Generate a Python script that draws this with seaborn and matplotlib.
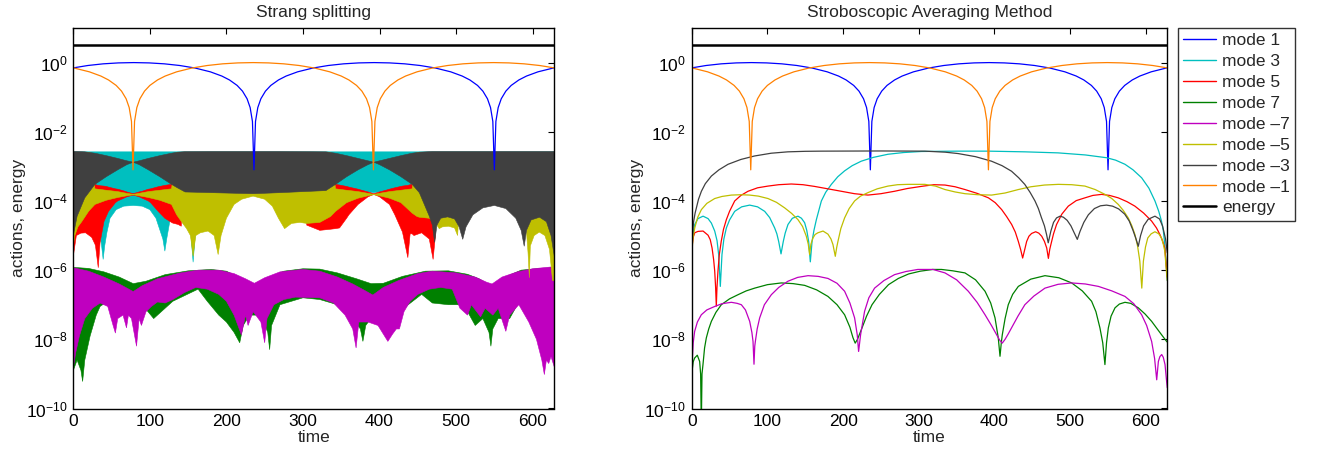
import numpy as np
import matplotlib
matplotlib.use("Agg")
import matplotlib.pyplot as plt
from matplotlib.lines import Line2D
import seaborn as sns

# ---------------- data (log10 of the actions) ----------------
T_END = 628.3
energy_t = [0, T_END]
energy_a = [0.51, 0.51]

# mode 1 / mode -1 (same in both panels)
t_p1 = [0, 19, 39, 59, 79, 99, 119, 139, 159, 179, 194, 204, 214, 221, 227, 231, 234, 236, 238, 241,
        245, 251, 258, 268, 278, 293, 313, 333, 353, 373, 393, 413, 433, 453, 473, 493, 508, 518, 528, 535,
        541, 545, 548, 550, 552, 555, 559, 565, 572, 582, 592, 607, 627, 628.3]
a_p1 = [-0.153, -0.084, -0.036, -0.009, 0, -0.009, -0.036, -0.084, -0.157, -0.267, -0.389, -0.502, -0.66,
        -0.825, -1.046, -1.30, -1.70, -3.1, -1.70, -1.30, -1.046, -0.825, -0.66, -0.502, -0.389, -0.267,
        -0.157, -0.084, -0.036, -0.009, 0, -0.009, -0.036, -0.084, -0.157, -0.267, -0.389, -0.502, -0.66,
        -0.825, -1.046, -1.30, -1.70, -3.1, -1.70, -1.30, -1.046, -0.825, -0.66, -0.502, -0.389, -0.267,
        -0.157, -0.153]
t_m1 = [0, 1, 21, 36, 46, 56, 63, 69, 73, 76, 78, 80, 83, 87, 93, 100, 110, 120, 135, 155, 175, 195, 215,
        235, 255, 275, 295, 315, 335, 350, 360, 370, 377, 383, 387, 390, 392, 394, 397, 401, 407, 414, 424,
        434, 449, 469, 489, 509, 529, 549, 569, 589, 609, 628.3]
a_m1 = [-0.153, -0.157, -0.267, -0.389, -0.502, -0.66, -0.825, -1.046, -1.30, -1.70, -3.1, -1.70, -1.30,
        -1.046, -0.825, -0.66, -0.502, -0.389, -0.267, -0.157, -0.084, -0.036, -0.009, 0, -0.009, -0.036,
        -0.084, -0.157, -0.267, -0.389, -0.502, -0.66, -0.825, -1.046, -1.30, -1.70, -3.1, -1.70, -1.30,
        -1.046, -0.825, -0.66, -0.502, -0.389, -0.267, -0.157, -0.084, -0.036, -0.009, 0, -0.009, -0.036,
        -0.084, -0.153]

# stroboscopic averaging: smooth curves
t_avg_p3 = [0, 2, 4, 8.3, 15, 21.6, 26, 30.4, 33.5, 35.6, 37.8, 40, 42.5, 45.8, 50, 56.8, 66, 76.6, 87, 96.4,
            103, 109.6, 112.5, 114.9, 118, 121, 123.5, 127.2, 133, 140.4, 145, 149.2, 152, 154.5, 156.7, 159,
            161.5, 164.7, 171.3, 177, 184.5, 193, 202, 212, 224, 240, 259.3, 280, 303.3, 350, 392, 440, 484,
            520, 548, 560, 572.4, 583, 594.4, 604, 612, 617, 620.6, 623, 625, 627.4, 628.3]
a_avg_p3 = [-5.3, -4.9, -4.68, -4.51, -4.44, -4.51, -4.64, -4.87, -5.15, -5.55, -6.47, -5.55, -5.1, -4.78,
            -4.55, -4.30, -4.17, -4.12, -4.17, -4.30, -4.48, -4.78, -4.95, -5.17, -5.53, -5.17, -4.93, -4.68,
            -4.5, -4.44, -4.5, -4.63, -4.85, -5.17, -5.76, -5.17, -4.85, -4.54, -4.0, -3.75, -3.52, -3.3,
            -3.13, -2.98, -2.85, -2.74, -2.65, -2.6, -2.57, -2.56, -2.56, -2.58, -2.61, -2.67, -2.75, -2.82,
            -2.94, -3.1, -3.33, -3.63, -4.0, -4.3, -4.58, -4.85, -5.26, -6.0, -6.3]
t_avg_p5 = [0, 2, 4, 8.3, 15, 21.6, 24.5, 26.9, 29, 30.4, 31.6, 32.5, 33.4, 34.7, 36.5, 39, 42, 45.8, 50,
            56.8, 65, 74.4, 87, 100.8, 115, 131.6, 147, 162.4, 180, 197.6, 215, 232.8, 250, 268, 285, 303,
            320, 334.6, 348, 361, 377, 392, 401, 409.5, 416, 422.7, 427.5, 431.5, 434.5, 437.2, 440, 442.5,
            445.5, 449, 454.4, 458.5, 462.4, 466, 469, 471.2, 473, 474.5, 478, 482, 489, 497.5, 508, 519.5,
            530, 541.5, 552, 563.5, 575, 585.5, 597, 607.5, 614, 618.5, 622, 625, 627.4, 628.3]
a_avg_p5 = [-5.4, -5.05, -4.92, -4.88, -4.87, -4.99, -5.12, -5.36, -5.7, -6.03, -6.5, -7.04, -6.5, -6.03,
            -5.55, -5.17, -4.82, -4.54, -4.3, -4.0, -3.84, -3.72, -3.62, -3.57, -3.53, -3.51, -3.53, -3.58,
            -3.65, -3.72, -3.79, -3.83, -3.79, -3.72, -3.64, -3.58, -3.53, -3.54, -3.59, -3.67, -3.78, -3.91,
            -4.05, -4.25, -4.45, -4.68, -4.9, -5.17, -5.4, -5.65, -5.4, -5.17, -5.02, -4.94, -4.89, -4.93,
            -5.02, -5.17, -5.36, -5.66, -5.4, -5.26, -4.95, -4.68, -4.38, -4.15, -3.99, -3.91, -3.84, -3.81,
            -3.84, -3.91, -4.02, -4.15, -4.35, -4.58, -4.78, -4.97, -5.15, -5.36, -6.0, -6.2]
t_avg_p7 = [0, 0.4, 2, 3.9, 7.4, 10.5, 11.8, 12.7, 13.6, 14.9, 17, 19.3, 22.5, 26, 32, 39.1, 50, 61.2, 72,
            83.2, 100, 118.4, 134, 149.2, 165, 180, 192, 202, 209, 213, 216, 219, 225, 231, 238.2, 248, 260,
            273, 286.6, 302, 318.7, 330, 345, 361, 375, 387.5, 395, 400.7, 405, 407.3, 409, 410.3, 414,
            418.2, 424, 431.5, 448, 466.7, 485, 502, 516, 528.3, 534, 539.3, 543, 545.9, 548, 550.4, 554,
            559.2, 565, 572.4, 580, 590, 599, 607.6, 614, 620.8, 627.4, 628.3]
a_avg_p7 = [-9.2, -8.93, -8.65, -8.54, -8.46, -8.64, -9.0, -10.5, -9.0, -8.73, -8.25, -7.96, -7.7, -7.48,
            -7.22, -7.0, -6.83, -6.71, -6.6, -6.52, -6.42, -6.37, -6.39, -6.44, -6.57, -6.76, -7.0, -7.29,
            -7.65, -7.95, -8.11, -8.0, -7.67, -7.33, -7.0, -6.7, -6.42, -6.24, -6.11, -6.03, -5.98, -5.98,
            -6.02, -6.08, -6.28, -6.61, -6.95, -7.38, -7.96, -8.49, -8.1, -7.87, -7.4, -7.0, -6.7, -6.47,
            -6.26, -6.16, -6.22, -6.37, -6.6, -6.9, -7.2, -7.67, -8.1, -8.73, -8.1, -7.67, -7.33, -7.09,
            -6.98, -6.93, -6.96, -7.09, -7.27, -7.48, -7.67, -7.87, -8.06, -8.08]
t_avg_m7 = [0, 0.4, 2, 3.9, 7.5, 12.7, 20, 30.4, 40, 52.4, 60, 65.6, 71, 76.6, 79.5, 81, 82.3, 83.3, 84.1,
            86.5, 89.8, 96, 105.2, 115, 127.2, 140, 153.7, 167, 180, 192, 202, 209, 215.2, 218.7, 220.5,
            223.1, 228.4, 234, 241.6, 254, 268, 283, 298.8, 318.7, 334.6, 350, 365.4, 377, 387.5, 396, 402.9,
            407, 410.3, 414, 418, 422.5, 431, 440.1, 452, 466.7, 484, 502, 520, 537.3, 555, 572.4, 584,
            594.4, 601, 607.6, 611.5, 614.3, 616.5, 618.5, 620.9, 623, 625.3, 627.4, 628.3]
a_avg_m7 = [-9.3, -8.73, -8.1, -7.77, -7.5, -7.29, -7.15, -7.05, -6.97, -6.93, -6.96, -7.0, -7.15, -7.48,
            -7.8, -8.06, -8.72, -8.2, -8.06, -7.7, -7.38, -7.0, -6.71, -6.5, -6.32, -6.21, -6.16, -6.18,
            -6.24, -6.38, -6.61, -6.95, -7.38, -7.87, -8.35, -7.87, -7.19, -6.8, -6.52, -6.3, -6.13, -6.04,
            -5.98, -5.98, -6.08, -6.28, -6.61, -6.93, -7.29, -7.6, -7.87, -8.03, -8.11, -8.0, -7.85, -7.67,
            -7.33, -7.0, -6.75, -6.52, -6.41, -6.37, -6.4, -6.47, -6.6, -6.76, -6.97, -7.29, -7.6, -8.06,
            -8.55, -9.17, -8.64, -8.5, -8.44, -8.52, -8.73, -9.22, -9.4]
t_avg_m5 = [0, 1.5, 4, 8, 12.8, 20, 30.4, 40, 52.4, 65, 76.6, 88, 100.8, 112, 122.8, 132, 140.4, 146.5,
            151.4, 154, 155.8, 157.5, 160.2, 163, 166.7, 173.5, 180, 184, 186.6, 189.7, 191.5, 193.2, 197,
            202, 208, 215.2, 223, 232.8, 245, 259.3, 272, 285.7, 308, 322, 334.6, 348, 361, 378, 396.2, 414,
            431.5, 448, 466, 484.4, 502, 519.5, 533, 546, 555, 563.5, 570, 576.7, 581.5, 585.5, 589, 592,
            594.6, 596.7, 599.5, 602.5, 607, 612, 617, 620.6, 623, 625, 627.4, 628.3]
a_avg_m5 = [-5.6, -5.1, -4.78, -4.47, -4.25, -4.07, -3.93, -3.87, -3.83, -3.82, -3.83, -3.86, -3.93, -4.04,
            -4.20, -4.36, -4.54, -4.74, -5.02, -5.25, -5.55, -5.25, -5.07, -4.97, -4.92, -4.87, -4.96, -5.1,
            -5.26, -5.6, -5.35, -5.17, -4.8, -4.49, -4.22, -4.0, -3.86, -3.76, -3.65, -3.57, -3.53, -3.52,
            -3.52, -3.57, -3.67, -3.74, -3.79, -3.82, -3.83, -3.77, -3.67, -3.59, -3.54, -3.52, -3.53, -3.57,
            -3.67, -3.81, -3.93, -4.10, -4.27, -4.49, -4.72, -4.97, -5.3, -5.74, -6.52, -5.74, -5.33, -5.07,
            -4.95, -4.89, -4.95, -5.07, -5.25, -5.45, -6.1, -6.3]
t_avg_m3 = [0, 1, 2.5, 4.5, 6.2, 9, 12.8, 18, 26, 36, 48, 65, 83, 105, 127, 150, 171, 250, 308, 335, 352,
            375, 396, 410, 422.5, 432, 440, 447, 453.5, 458, 462, 466, 468.8, 471, 474.5, 478, 482, 486.6,
            491, 496, 501, 505.5, 509.4, 513, 518, 524, 532, 540, 548, 556, 564, 572, 578, 583, 587, 590,
            593, 597, 603, 612, 618, 622, 626, 628.3]
a_avg_m3 = [-5.5, -5.0, -4.6, -4.35, -4.20, -3.95, -3.72, -3.5, -3.28, -3.1, -2.94, -2.8, -2.70, -2.62,
            -2.58, -2.565, -2.56, -2.555, -2.56, -2.59, -2.63, -2.72, -2.85, -2.98, -3.14, -3.33, -3.52,
            -3.75, -4.0, -4.22, -4.48, -4.72, -4.97, -5.21, -4.87, -4.62, -4.49, -4.44, -4.47, -4.56, -4.72,
            -4.93, -5.11, -4.88, -4.62, -4.40, -4.22, -4.14, -4.12, -4.15, -4.23, -4.38, -4.58, -4.85, -5.1,
            -5.31, -5.0, -4.72, -4.53, -4.44, -4.52, -4.72, -5.1, -5.5]

# Strang splitting: fast oscillations shown as bands (upper / lower envelope)
t_str_p3 = [0, 30, 35, 37, 39, 41, 44, 48, 56, 66, 78.3, 90, 100, 108, 114, 117, 119.6, 122, 126, 132, 150,
            153, 156.5, 160, 165, 330, 342.6, 370, 392.6, 415, 442.6, 450, 628.3]
hi_str_p3 = [-2.58] * 33
lo_str_p3 = [-4.0, -4.6, -5.0, -5.3, -5.69, -5.3, -4.9, -4.5, -4.25, -4.15, -4.13, -4.15, -4.25, -4.5, -4.9,
             -5.1, -5.45, -5.1, -4.6, -4.4, -4.4, -4.8, -5.77, -4.8, -3.0, -3.0, -3.6, -3.7, -3.76, -3.7,
             -3.6, -3.0, -3.0]

t_str_p5 = [0, 2, 4, 10, 16, 24, 28.3, 29, 32.6, 35, 40, 43, 46, 55, 58, 66, 70, 78.3, 86, 90, 98, 101,
            110.9, 113, 119.6, 128.3, 130, 137, 141, 146, 300, 305, 322, 335, 342.6, 347.8, 357, 360, 372,
            375, 385, 392.6, 400, 410, 413, 420, 428, 430, 437, 440, 442.6, 445, 455, 465, 470, 473, 476,
            628.3]
hi_str_p5 = [-3.0, -3.0, -3.0, -3.0, -3.0, -3.0, -3.52, -3.53, -3.55, -3.56, -3.57, -3.58, -3.60, -3.65,
             -3.66, -3.71, -3.74, -3.79, -3.74, -3.72, -3.66, -3.65, -3.59, -3.58, -3.55, -3.52, -3.3, -3.0,
             -3.0, -3.0, -3.0, -3.0, -3.0, -3.0, -3.52, -3.54, -3.58, -3.60, -3.66, -3.68, -3.74, -3.79,
             -3.74, -3.68, -3.66, -3.62, -3.58, -3.57, -3.55, -3.53, -3.52, -3.3, -3.0, -3.0, -3.0, -3.0,
             -3.0, -3.0]
lo_str_p5 = [-5.6, -5.3, -5.0, -4.93, -4.92, -5.05, -5.25, -5.3, -5.93, -5.2, -4.6, -4.45, -4.3, -4.05,
             -4.0, -3.92, -3.88, -3.83, -3.88, -3.92, -4.0, -4.05, -4.30, -4.35, -4.5, -4.62, -4.64, -4.68,
             -4.73, -3.2, -3.2, -4.7, -4.85, -4.82, -4.8, -4.78, -4.5, -4.4, -4.1, -4.05, -3.88, -3.81,
             -3.88, -4.05, -4.1, -4.4, -4.8, -4.9, -5.64, -4.95, -4.95, -5.0, -4.92, -5.1, -5.69, -5.0,
             -3.2, -3.2]

t_str_p7_hi = [0, 20, 40, 60, 78.3, 95, 120, 150, 180, 200, 220, 236.5, 252, 275, 300, 322, 345, 370, 389,
               405, 430, 460, 490, 515, 530, 547, 562, 585, 610, 628.3]
hi_str_p7 = [-5.92, -5.95, -6.05, -6.2, -6.39, -6.32, -6.13, -6.02, -5.98, -6.03, -6.25, -6.45, -6.25,
             -6.03, -5.96, -5.97, -6.08, -6.25, -6.39, -6.38, -6.18, -6.03, -6.02, -6.12, -6.25, -6.48,
             -6.22, -6.0, -5.95, -5.93]
t_str_p7_lo = [0, 5, 10, 12.2, 15, 22, 30, 35, 45, 60, 90, 105, 130, 163, 175, 190, 200, 210, 217.4, 222,
               230, 245, 254, 256.5, 259, 270, 300, 322, 345, 365, 375, 378.3, 382, 392, 420, 455, 469, 490,
               505, 515, 525, 535, 543, 545.5, 548, 555, 570, 580, 600, 628.3]
lo_str_p7 = [-8.9, -8.6, -8.9, -9.22, -8.6, -7.9, -7.3, -7.05, -6.9, -6.9, -7.0, -7.4, -6.9, -6.55, -6.9,
             -7.3, -7.5, -7.8, -8.1, -7.6, -7.3, -7.3, -7.8, -8.3, -7.6, -7.0, -6.8, -6.85, -7.0, -7.4, -7.7,
             -8.06, -7.6, -7.3, -7.3, -6.7, -6.95, -7.0, -7.0, -7.2, -7.6, -7.4, -7.8, -8.2, -7.7, -7.4,
             -7.4, -7.0, -6.8, -6.8]

t_str_m7_hi = [0, 20, 40, 60, 78.3, 90, 110, 140, 163, 190, 210, 225, 236.5, 250, 270, 300, 322, 345, 365,
               380, 391.3, 405, 425, 450, 469, 500, 525, 540, 547, 560, 580, 600, 628.3]
hi_str_m7 = [-5.93, -6.03, -6.2, -6.4, -6.62, -6.45, -6.25, -6.08, -6.0, -6.0, -6.1, -6.25, -6.38, -6.22,
             -6.05, -5.98, -6.03, -6.2, -6.4, -6.58, -6.72, -6.5, -6.3, -6.1, -6.03, -6.08, -6.2, -6.35,
             -6.40, -6.2, -6.05, -5.96, -5.9]
t_str_m7_lo = [0, 3, 8, 15, 25, 35, 45, 52, 55, 58, 65, 69.5, 72, 76, 82.6, 86, 89, 95, 102, 110, 120, 130,
               145, 160, 175, 190, 200, 210, 219.6, 225, 228.3, 235, 245, 250, 253, 262, 275, 290, 322, 340,
               355, 365, 369.4, 373, 385, 398, 405, 410.9, 417, 422, 426, 432, 440, 450, 465, 480, 495, 505,
               515, 520, 532, 538, 548, 555, 565, 570, 582, 595, 605, 612, 615.3, 618, 621, 624, 628.3]
lo_str_m7 = [-8.83, -8.4, -7.9, -7.4, -7.1, -6.95, -7.05, -7.6, -7.82, -7.4, -7.3, -7.67, -7.3, -7.4, -8.2,
             -7.4, -7.6, -7.2, -7.05, -6.92, -6.95, -6.85, -6.65, -6.5, -6.55, -6.7, -6.9, -7.3, -7.87, -7.3,
             -7.6, -7.2, -7.5, -8.1, -7.4, -7.0, -6.85, -6.78, -6.8, -6.95, -7.3, -7.7, -8.25, -7.5, -7.5,
             -7.6, -7.85, -8.06, -7.85, -7.7, -7.7, -7.2, -6.9, -6.7, -6.55, -6.5, -6.55, -7.1, -7.3, -7.0,
             -7.35, -7.1, -7.3, -7.1, -7.77, -7.3, -7.0, -7.5, -8.0, -8.6, -9.02, -8.6, -8.7, -8.5, -8.8]

t_str_m5 = [0, 2, 6, 11, 20, 22, 28.3, 43, 58, 70, 78.3, 86, 98, 113, 128.3, 135, 142, 148, 153, 156.5, 160,
            166, 176, 184, 189.2, 193, 200, 210, 220, 234.8, 250, 260, 268, 276, 285, 296, 305, 322, 336,
            342.6, 357, 372, 385, 392.6, 400, 413, 428, 442.6, 449, 452, 465, 472, 478, 482, 490, 498, 502,
            505, 585, 591, 594, 595.7, 597, 602, 608.7, 616, 622, 626, 628.3]
hi_str_m5 = ([-2.6] * 6 + [-3.65, -3.69, -3.73, -3.78, -3.81, -3.78, -3.73, -3.69, -3.65] + [-2.6] * 24
             + [-3.65, -3.69, -3.73, -3.78, -3.81, -3.78, -3.73, -3.69, -3.65] + [-2.6] * 21)
lo_str_m5 = [-5.3, -5.0, -4.75, -4.6, -4.3, -4.25, -4.1, -3.98, -3.9, -3.85, -3.82, -3.85, -3.9, -3.98, -4.1,
             -4.4, -4.62, -4.8, -5.0, -5.6, -5.0, -4.92, -4.87, -5.0, -5.55, -5.0, -4.5, -4.1, -3.95, -3.86,
             -3.95, -4.15, -4.5, -4.8, -4.65, -4.62, -4.65, -4.62, -4.45, -4.3, -4.05, -3.92, -3.85, -3.82,
             -3.85, -3.92, -4.05, -4.35, -4.45, -4.47, -4.5, -4.6, -4.8, -4.75, -4.73, -4.78, -5.0, -4.0,
             -4.0, -4.6, -5.5, -6.22, -5.3, -5.0, -4.9, -5.0, -5.4, -6.3, -6.3]

t_str_m3 = [0, 5, 15, 28.3, 43, 58, 70, 78.3, 86, 98, 113, 128.3, 136, 146, 180, 234, 236, 270, 330, 342.6,
            357, 372, 385, 392.6, 400, 413, 428, 442.6, 452, 465, 469, 472, 475, 480, 489, 498, 504, 508.7,
            513, 522, 535, 550, 565, 578, 585, 589, 592, 598, 609, 618, 624, 628.3]
hi_str_m3 = ([-2.57, -2.57, -2.58, -2.62, -2.69, -2.77, -2.84, -2.88, -2.84, -2.77, -2.69, -2.62, -2.59,
              -2.575, -2.57, -2.57, -2.57, -2.57, -2.58, -2.62, -2.69, -2.77, -2.84, -2.88, -2.84, -2.77,
              -2.69, -2.62, -2.59, -2.575] + [-2.57] * 22)
lo_str_m3 = [-5.0, -4.44, -3.91, -3.52, -3.30, -3.10, -2.95, -2.88, -2.95, -3.10, -3.30, -3.52, -3.62, -3.74,
             -3.76, -3.79, -3.79, -3.76, -3.70, -3.52, -3.30, -3.10, -2.95, -2.88, -2.95, -3.10, -3.30, -3.52,
             -3.76, -4.44, -4.70, -5.20, -4.70, -4.50, -4.46, -4.52, -4.75, -5.11, -4.75, -4.40, -4.20, -4.13,
             -4.22, -4.50, -4.85, -5.31, -4.85, -4.55, -4.47, -4.60, -5.00, -5.60]

colors = {
    "mode 1": "#0000FF", "mode 3": "#00BFBF", "mode 5": "#FF0000", "mode 7": "#008000",
    "mode \u20137": "#BF00BF", "mode \u20135": "#BFBF00", "mode \u20133": "#404040",
    "mode \u20131": "#FF8000", "energy": "#000000",
}

# ---------------- style ----------------
sns.set_theme(style="white")
plt.rcParams["font.family"] = ["Liberation Sans", "DejaVu Sans"]
plt.rcParams["mathtext.fontset"] = "custom"
plt.rcParams["mathtext.rm"] = "Liberation Sans"
plt.rcParams["mathtext.it"] = "Liberation Sans:italic"
plt.rcParams["axes.edgecolor"] = "black"
plt.rcParams["axes.linewidth"] = 1.0

FS = 12.5
fig = plt.figure(figsize=(13.21, 4.58), dpi=100)
ax_l = fig.add_axes([73.3 / 1321, 49.5 / 458, 481 / 1321, 380.5 / 458])
ax_r = fig.add_axes([691.7 / 1321, 49.5 / 458, 475.6 / 1321, 380.5 / 458])


def curve(ax, t, a, label, lw=0.9):
    sns.lineplot(x=np.asarray(t), y=10.0 ** np.asarray(a), color=colors[label], lw=lw,
                 estimator=None, sort=False, ax=ax, label=label, legend=False)


def band(ax, t_hi, hi, t_lo, lo, label):
    xs = np.concatenate([t_hi, t_lo[::-1]])
    ys = 10.0 ** np.concatenate([hi, lo[::-1]])
    ax.fill(xs, ys, color=colors[label], lw=0.4, ec=colors[label])


for ax in (ax_l, ax_r):
    ax.set_yscale("log")

# left: Strang splitting
curve(ax_l, t_p1, a_p1, "mode 1")
band(ax_l, t_str_p3, hi_str_p3, t_str_p3, lo_str_p3, "mode 3")
band(ax_l, t_str_p5, hi_str_p5, t_str_p5, lo_str_p5, "mode 5")
band(ax_l, t_str_p7_hi, hi_str_p7, t_str_p7_lo, lo_str_p7, "mode 7")
band(ax_l, t_str_m7_hi, hi_str_m7, t_str_m7_lo, lo_str_m7, "mode \u20137")
band(ax_l, t_str_m5, hi_str_m5, t_str_m5, lo_str_m5, "mode \u20135")
band(ax_l, t_str_m3, hi_str_m3, t_str_m3, lo_str_m3, "mode \u20133")
curve(ax_l, t_m1, a_m1, "mode \u20131")
curve(ax_l, energy_t, energy_a, "energy", lw=1.8)

# right: stroboscopic averaging
curve(ax_r, t_p1, a_p1, "mode 1")
curve(ax_r, t_avg_p3, a_avg_p3, "mode 3")
curve(ax_r, t_avg_p5, a_avg_p5, "mode 5")
curve(ax_r, t_avg_p7, a_avg_p7, "mode 7")
curve(ax_r, t_avg_m7, a_avg_m7, "mode \u20137")
curve(ax_r, t_avg_m5, a_avg_m5, "mode \u20135")
curve(ax_r, t_avg_m3, a_avg_m3, "mode \u20133")
curve(ax_r, t_m1, a_m1, "mode \u20131")
curve(ax_r, energy_t, energy_a, "energy", lw=1.8)

exps = np.arange(-10, 1, 2)
for ax, title in ((ax_l, "Strang splitting"), (ax_r, "Stroboscopic Averaging Method")):
    ax.set_xlim(0, T_END)
    ax.set_ylim(1e-10, 10)
    ax.set_yticks(10.0 ** exps)
    ax.set_yticklabels([r"$10^{%d}$" % e for e in exps])
    ax.yaxis.set_minor_locator(matplotlib.ticker.NullLocator())
    ax.set_xticks(np.arange(0, 601, 100))
    ax.tick_params(direction="in", top=True, right=True, length=4, width=0.8,
                   labelsize=FS, colors="black", pad=4)
    ax.set_title(title, fontsize=FS, pad=8)
    ax.set_xlabel("time", fontsize=FS, labelpad=1)
    ax.set_ylabel("actions, energy", fontsize=FS, labelpad=0)
    for sp in ax.spines.values():
        sp.set_color("black")

handles = [Line2D([], [], color=colors[k], lw=(1.8 if k == "energy" else 1.0)) for k in colors]
leg = fig.legend(handles, list(colors.keys()), loc="upper left",
                 bbox_to_anchor=(1178 / 1321, 1 - 28 / 458), frameon=True, fancybox=False,
                 edgecolor="black", fontsize=FS, handlelength=1.9, handletextpad=0.35,
                 labelspacing=0.33, borderpad=0.3, borderaxespad=0)
leg.get_frame().set_linewidth(1.0)

fig.savefig("out.png", dpi=100)
